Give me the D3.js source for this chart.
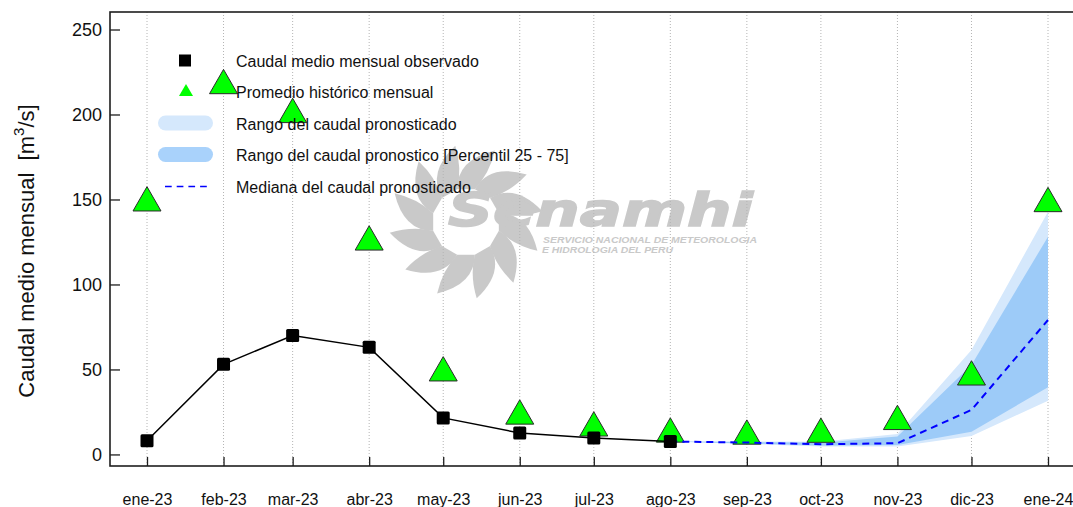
<!DOCTYPE html>
<html>
<head>
<meta charset="utf-8">
<script src="https://cdn.jsdelivr.net/npm/d3@7/dist/d3.min.js"></script>
<style>
  html, body { margin: 0; padding: 0; background: #fff; overflow: hidden; }
  svg { display: block; font-family: "Liberation Sans", Arial, sans-serif; }
</style>
</head>
<body>
<svg id="chart" width="1073" height="507"></svg>
<script>
// Monthly axis (first day of each month) and its labels
const monthDates = ["2023-01-01","2023-02-01","2023-03-01","2023-04-01","2023-05-01","2023-06-01",
                    "2023-07-01","2023-08-01","2023-09-01","2023-10-01","2023-11-01","2023-12-01","2024-01-01"];
const monthLabels = ["ene-23","feb-23","mar-23","abr-23","may-23","jun-23",
                     "jul-23","ago-23","sep-23","oct-23","nov-23","dic-23","ene-24"];

// Observed monthly mean discharge (ene-23 .. ago-23), m3/s
const observed = [8, 53, 70, 63, 21.5, 12.6, 9.7, 7.6];

// Historical monthly average (ene-23 .. ene-24), m3/s
const historical = [148, 217, 200, 125, 48, 22.6, 15.6, 12, 10.8, 11.9, 19.4, 45.6, 147.6];

// Forecast (ago-23 .. ene-24), m3/s
const forecastStart = 7;
const forecastMin    = [7.6, 6.2, 4.6, 4.6, 10.9, 31.6];
const forecastP25    = [7.6, 6.5, 5.2, 5.6, 13.4, 39.5];
const forecastMedian = [7.6, 7.0, 6.0, 6.6, 26.2, 79.1];
const forecastP75    = [7.6, 7.3, 6.9, 10.5, 52.6, 128.1];
const forecastMax    = [7.6, 7.6, 7.5, 12.0, 61.5, 142.8];

// Y axis ticks
const yTicks = [0, 50, 100, 150, 200, 250];

const svg = d3.select("#chart");
const frame = { left: 110, top: 12, right: 1095, bottom: 466 };
const parse = d3.timeParse("%Y-%m-%d");
const dates = monthDates.map(parse);

const x = d3.scaleTime().domain([dates[0], dates[dates.length - 1]]).range([147, 1048]);
const y = d3.scaleLinear().domain([-6.8, 260.3]).range([frame.bottom, frame.top]);

// ---- Watermark (logo) ----
const wm = svg.append("g").attr("fill", "#c9c9c9");
const cx = 466, cy = 222;
function petal(angleDeg) {
  const r0 = 34, r1 = 77;
  const rad = d => (d - 90) * Math.PI / 180;
  const pt = (r, a) => [cx + r * Math.cos(rad(a)), cy + r * Math.sin(rad(a))];
  const a0 = angleDeg - 15, a1 = angleDeg + 15, at = angleDeg + 22;
  const p0 = pt(r0, a0), p1 = pt(r0, a1), tip = pt(r1, at);
  const c0 = pt(r1 * 0.82, angleDeg - 8), c1 = pt(r1 * 0.70, angleDeg + 26);
  return `M${p0}Q${c0} ${tip}Q${c1} ${p1}Z`;
}
d3.range(0, 360, 30).forEach(a => wm.append("path").attr("d", petal(a)));
wm.append("text")
  .attr("x", 448).attr("y", 226)
  .attr("font-family", "DejaVu Sans, sans-serif")
  .attr("font-size", 46).attr("font-weight", "bold").attr("font-style", "italic")
  .attr("stroke", "#c9c9c9").attr("stroke-width", 1.5)
  .attr("textLength", 305).attr("lengthAdjust", "spacingAndGlyphs")
  .text("Senamhi");
wm.append("text")
  .attr("x", 543).attr("y", 243)
  .attr("font-size", 8.5).attr("font-weight", "bold").attr("font-style", "italic")
  .attr("textLength", 214).attr("lengthAdjust", "spacingAndGlyphs")
  .text("SERVICIO NACIONAL DE METEOROLOGIA");
wm.append("text")
  .attr("x", 542).attr("y", 253)
  .attr("font-size", 8.5).attr("font-weight", "bold").attr("font-style", "italic")
  .attr("textLength", 131).attr("lengthAdjust", "spacingAndGlyphs")
  .text("E HIDROLOGIA DEL PERU");

// ---- Vertical dotted grid ----
svg.append("g").selectAll("line").data(dates).join("line")
  .attr("x1", d => x(d)).attr("x2", d => x(d))
  .attr("y1", frame.top).attr("y2", frame.bottom)
  .attr("stroke", "#b4b4b4").attr("stroke-width", 1).attr("stroke-dasharray", "1,2");

// ---- Forecast bands ----
const fDates = dates.slice(forecastStart);
const band = (lo, hi) => d3.area()
  .x((d, i) => x(fDates[i]))
  .y0((d, i) => y(lo[i])).y1((d, i) => y(hi[i]))(fDates);
svg.append("path").attr("d", band(forecastMin, forecastMax)).attr("fill", "#d5e8fc");
svg.append("path").attr("d", band(forecastP25, forecastP75)).attr("fill", "#9dcbf8");

// ---- Historical average triangles ----
const tri = "M0,-16.2L14,8.1L-14,8.1Z";
svg.append("g").selectAll("path").data(historical).join("path")
  .attr("d", tri)
  .attr("transform", (d, i) => `translate(${x(dates[i])},${y(d)})`)
  .attr("fill", "#00ff00").attr("stroke", "#2a2a2a").attr("stroke-width", 1);

// ---- Forecast median ----
svg.append("path")
  .attr("d", d3.line().x((d, i) => x(fDates[i])).y(d => y(d))(forecastMedian))
  .attr("fill", "none").attr("stroke", "#0000ff").attr("stroke-width", 2)
  .attr("stroke-dasharray", "7,5");

// ---- Observed line and squares ----
svg.append("path")
  .attr("d", d3.line().x((d, i) => x(dates[i])).y(d => y(d))(observed))
  .attr("fill", "none").attr("stroke", "#000").attr("stroke-width", 1.5);
svg.append("g").selectAll("rect").data(observed).join("rect")
  .attr("x", (d, i) => x(dates[i]) - 6.5).attr("y", d => y(d) - 6.5)
  .attr("width", 13).attr("height", 13).attr("rx", 1.5)
  .attr("fill", "#000");

// ---- Frame and axes ----
svg.append("rect")
  .attr("x", frame.left).attr("y", frame.top)
  .attr("width", frame.right - frame.left).attr("height", frame.bottom - frame.top)
  .attr("fill", "none").attr("stroke", "#1e1e1e").attr("stroke-width", 1.6);

const yAxis = svg.append("g").attr("transform", `translate(${frame.left},0)`)
  .call(d3.axisRight(y).tickValues(yTicks).tickSize(10).tickFormat(d3.format("d")));
yAxis.select(".domain").remove();
yAxis.selectAll(".tick line").attr("stroke", "#1e1e1e").attr("stroke-width", 1.3);
yAxis.selectAll(".tick text")
  .attr("x", -8).attr("text-anchor", "end").attr("font-size", 18)
  .attr("font-family", "Liberation Sans, Arial, sans-serif").attr("fill", "#111");

const xAxis = svg.append("g").attr("transform", `translate(0,${frame.bottom})`)
  .call(d3.axisTop(x).tickValues(dates).tickSize(9).tickFormat((d, i) => monthLabels[i]));
xAxis.select(".domain").remove();
xAxis.selectAll(".tick line").attr("stroke", "#1e1e1e").attr("stroke-width", 1.3);
xAxis.selectAll(".tick text")
  .attr("y", 39).attr("dy", 0).attr("font-size", 16)
  .attr("font-family", "Liberation Sans, Arial, sans-serif").attr("fill", "#111");

// ---- Y axis title ----
const yTitle = svg.append("text")
  .attr("transform", "translate(34,251) rotate(-90)")
  .attr("text-anchor", "middle").attr("font-size", 22).attr("fill", "#111");
yTitle.append("tspan").text("Caudal medio mensual\u00a0\u00a0[m");
yTitle.append("tspan").attr("font-size", 15).attr("dy", -10).text("3");
yTitle.append("tspan").attr("dy", 10).text("/s]");

// ---- Legend ----
const lg = svg.append("g").attr("font-size", 16).attr("fill", "#111");
const rowY = [66.5, 98, 129.5, 161, 192.5];
const legendText = ["Caudal medio mensual observado", "Promedio histórico mensual",
  "Rango del caudal pronosticado", "Rango del caudal pronostico [Percentil 25 - 75]",
  "Mediana del caudal pronosticado"];
lg.selectAll("text").data(legendText).join("text")
  .attr("x", 236).attr("y", (d, i) => rowY[i]).text(d => d);
lg.append("rect").attr("x", 179).attr("y", rowY[0] - 12).attr("width", 12).attr("height", 12).attr("fill", "#000");
lg.append("path").attr("d", "M0,-7L7,5L-7,5Z").attr("transform", `translate(186,${rowY[1] - 7})`).attr("fill", "#00ff00");
lg.append("rect").attr("x", 158).attr("y", rowY[2] - 14).attr("width", 55).attr("height", 15).attr("rx", 7.5).attr("fill", "#d5e8fc");
lg.append("rect").attr("x", 158).attr("y", rowY[3] - 14).attr("width", 55).attr("height", 15).attr("rx", 7.5).attr("fill", "#a9d2fb");
lg.append("line").attr("x1", 165).attr("x2", 208).attr("y1", rowY[4] - 6).attr("y2", rowY[4] - 6)
  .attr("stroke", "#0000ff").attr("stroke-width", 1.5).attr("stroke-dasharray", "6.7,5");
</script>
</body>
</html>
